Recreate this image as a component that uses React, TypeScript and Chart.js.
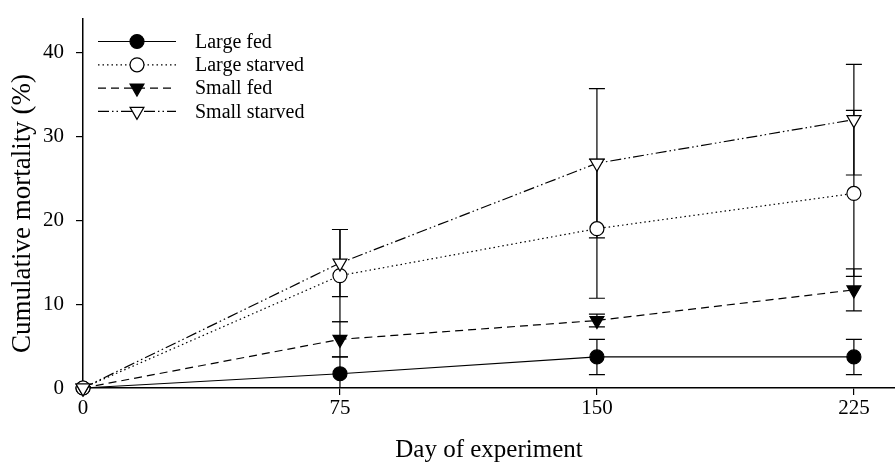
import React, { useEffect, useRef } from "react";
import { Chart, registerables } from "chart.js";

Chart.register(...registerables);

const days = [0, 75, 150, 225];
const yTicks = [0, 10, 20, 30, 40];

const largeFed = [0, 1.7, 3.7, 3.7];
const largeFedErr = [0, 2.0, 2.1, 2.1];
const largeStarved = [0, 13.4, 19.0, 23.2];
const largeStarvedErr = [0, 5.5, 8.3, 9.9];
const smallFed = [0, 5.8, 8.05, 11.7];
const smallFedErr = [0, 2.1, 0.75, 2.5];
const smallStarved = [0, 14.9, 26.8, 32.0];
const smallStarvedErr = [0, 4.0, 8.9, 6.6];

const labels = ["Large fed", "Large starved", "Small fed", "Small starved"];
const yTitle = "Cumulative mortality (%)";
const xTitle = "Day of experiment";

const FONT = "'Liberation Serif', 'Times New Roman', serif";

const errorBarPlugin = {
  id: "errorBars",
  beforeDatasetsDraw(chart: any) {
    const { ctx, chartArea } = chart;
    const xs = chart.scales.x;
    const ys = chart.scales.y;
    ctx.save();
    ctx.beginPath();
    ctx.rect(chartArea.left, chartArea.top, chartArea.right - chartArea.left, chartArea.bottom - chartArea.top);
    ctx.clip();
    ctx.strokeStyle = "#000";
    ctx.lineWidth = 1.2;
    ctx.setLineDash([]);
    chart.data.datasets.forEach((ds: any) => {
      const errs: number[] = ds.errors || [];
      ds.data.forEach((p: any, i: number) => {
        const e = errs[i];
        if (!e) return;
        const x = xs.getPixelForValue(p.x);
        const yHi = ys.getPixelForValue(p.y + e);
        const yLo = ys.getPixelForValue(p.y - e);
        const cw = 8;
        ctx.beginPath();
        ctx.moveTo(x, yHi);
        ctx.lineTo(x, yLo);
        ctx.moveTo(x - cw, yHi);
        ctx.lineTo(x + cw, yHi);
        ctx.moveTo(x - cw, yLo);
        ctx.lineTo(x + cw, yLo);
        ctx.stroke();
      });
    });
    ctx.restore();
  },
};

const yTitlePlugin = {
  id: "yTitle",
  afterDraw(chart: any) {
    const { ctx, chartArea } = chart;
    ctx.save();
    ctx.translate(23, (chartArea.top + chartArea.bottom) / 2 + 10);
    ctx.rotate(-Math.PI / 2);
    ctx.fillStyle = "#000";
    ctx.font = `27px ${FONT}`;
    ctx.textAlign = "center";
    ctx.textBaseline = "middle";
    ctx.fillText(yTitle, 0, 0);
    ctx.restore();
  },
};

const legendPlugin = {
  id: "customLegend",
  afterDraw(chart: any) {
    const { ctx, chartArea } = chart;
    ctx.save();
    const x0 = chartArea.left + 15;
    const x1 = chartArea.left + 93;
    const xm = (x0 + x1) / 2;
    const tx = chartArea.left + 112;
    const yStart = chartArea.top + 22.5;
    const step = 23.3;
    const dsList = chart.data.datasets;
    dsList.forEach((ds: any, i: number) => {
      const y = yStart + i * step;
      ctx.strokeStyle = "#000";
      ctx.lineWidth = 1.2;
      ctx.setLineDash(ds.borderDash || []);
      ctx.beginPath();
      ctx.moveTo(x0, y);
      ctx.lineTo(x1, y);
      ctx.stroke();
      ctx.setLineDash([]);
      ctx.fillStyle = ds.pointBackgroundColor;
      ctx.beginPath();
      if (ds.pointStyle === "circle") {
        ctx.arc(xm, y, ds.pointRadius, 0, Math.PI * 2);
      } else {
        const r = ds.pointRadius;
        ctx.moveTo(xm, y + r);
        ctx.lineTo(xm - r * Math.sqrt(3) / 2, y - r / 2);
        ctx.lineTo(xm + r * Math.sqrt(3) / 2, y - r / 2);
        ctx.closePath();
      }
      ctx.fill();
      ctx.stroke();
      ctx.fillStyle = "#000";
      ctx.font = `20px ${FONT}`;
      ctx.textBaseline = "middle";
      ctx.textAlign = "left";
      ctx.fillText(ds.label, tx, y + 1);
    });
    ctx.restore();
  },
};

function toPoints(vals: number[]) {
  return days.map((d, i) => ({ x: d, y: vals[i] }));
}

export default function App() {
  const ref = useRef<HTMLCanvasElement | null>(null);

  useEffect(() => {
    document.body.style.margin = "0";
    const canvas = ref.current!;
    const common = {
      borderColor: "#000",
      borderWidth: 1.2,
      pointBorderColor: "#000",
      pointBorderWidth: 1.2,
      showLine: true,
      tension: 0,
      clip: false,
    };
    const chart = new Chart(canvas, {
      type: "scatter",
      data: {
        datasets: [
          {
            ...common,
            label: labels[0],
            data: toPoints(largeFed),
            errors: largeFedErr,
            borderDash: [],
            pointStyle: "circle",
            pointRadius: 7,
            pointBackgroundColor: "#000",
            order: 3,
          },
          {
            ...common,
            label: labels[1],
            data: toPoints(largeStarved),
            errors: largeStarvedErr,
            borderDash: [1.5, 3],
            pointStyle: "circle",
            pointRadius: 7,
            pointBackgroundColor: "#fff",
            order: 2,
          },
          {
            ...common,
            label: labels[2],
            data: toPoints(smallFed),
            errors: smallFedErr,
            borderDash: [8, 5],
            pointStyle: "triangle",
            pointRotation: 180,
            pointRadius: 8,
            pointBackgroundColor: "#000",
            order: 1,
          },
          {
            ...common,
            label: labels[3],
            data: toPoints(smallStarved),
            errors: smallStarvedErr,
            borderDash: [11, 3, 1.5, 3, 1.5, 3],
            pointStyle: "triangle",
            pointRotation: 180,
            pointRadius: 8,
            pointBackgroundColor: "#fff",
            order: 0,
          },
        ] as any,
      },
      options: {
        animation: false,
        responsive: false,
        maintainAspectRatio: false,
        layout: { autoPadding: false, padding: { top: 19, right: 0, left: 0, bottom: 0 } },
        plugins: {
          legend: { display: false },
          tooltip: { enabled: false },
        },
        elements: { line: { borderCapStyle: "butt" } },
        scales: {
          x: {
            type: "linear",
            min: 0,
            max: 237,
            afterBuildTicks: (scale: any) => {
              scale.ticks = days.map((v) => ({ value: v }));
            },
            afterFit: (scale: any) => {
              scale.height = 79;
              scale.paddingLeft = 0;
              scale.paddingRight = 0;
            },
            border: { display: true, color: "#000", width: 1.5 },
            grid: {
              display: true,
              drawOnChartArea: false,
              drawTicks: true,
              tickLength: 7,
              color: "#000",
              lineWidth: 1.2,
            },
            ticks: {
              color: "#000",
              font: { family: FONT, size: 21 },
              padding: 1,
              maxRotation: 0,
              autoSkip: false,
            },
            title: {
              display: true,
              text: xTitle,
              color: "#000",
              font: { family: FONT, size: 25 },
              padding: { top: 0, bottom: 2 },
            },
          },
          y: {
            type: "linear",
            min: 0,
            max: 44,
            afterBuildTicks: (scale: any) => {
              scale.ticks = yTicks.map((v) => ({ value: v }));
            },
            afterFit: (scale: any) => {
              scale.width = 83;
              scale.paddingTop = 0;
              scale.paddingBottom = 0;
            },
            border: { display: true, color: "#000", width: 1.5 },
            grid: {
              display: true,
              drawOnChartArea: false,
              drawTicks: true,
              tickLength: 7,
              color: "#000",
              lineWidth: 1.2,
            },
            ticks: {
              color: "#000",
              font: { family: FONT, size: 21 },
              padding: 12,
            },
            title: { display: false },
          },
        },
      } as any,
      plugins: [errorBarPlugin, legendPlugin, yTitlePlugin],
    });
    return () => chart.destroy();
  }, []);

  return (
    <div style={{ width: 895, height: 467 }}>
      <canvas ref={ref} width={895} height={467} style={{ display: "block", width: 895, height: 467 }} />
    </div>
  );
}
